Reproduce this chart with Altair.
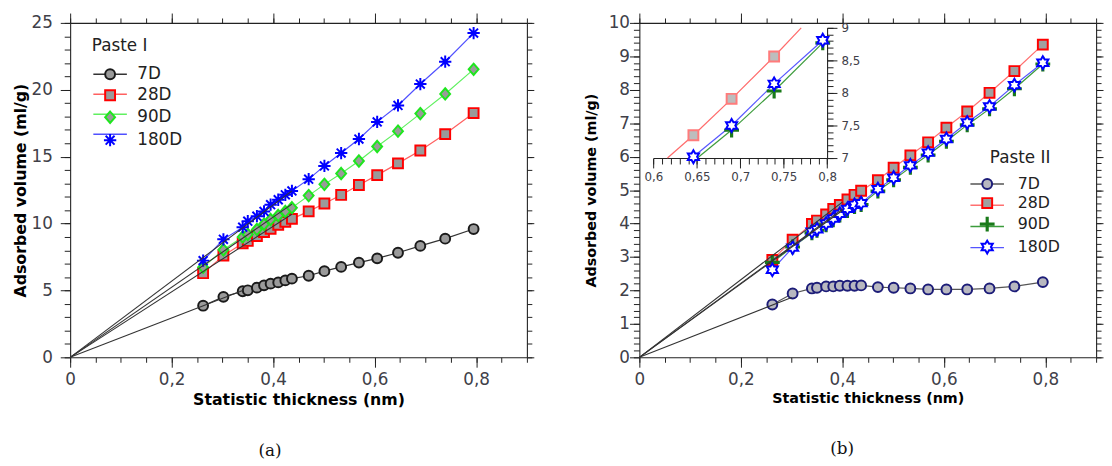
import altair as alt
import numpy as np
import pandas as pd

# ---------------- data ----------------
series = ["7D", "28D", "90D", "180D"]
thickness = [0.262, 0.302, 0.340, 0.350, 0.368, 0.382, 0.395, 0.410, 0.424, 0.437,
             0.470, 0.501, 0.534, 0.569, 0.605, 0.646, 0.690, 0.739, 0.795]

# Paste I (panel a)
p1_7d = [3.86, 4.52, 4.94, 5.01, 5.21, 5.38, 5.51, 5.60, 5.75, 5.88,
         6.10, 6.44, 6.76, 7.08, 7.40, 7.82, 8.33, 8.87, 9.59]
p1_28d = [6.29, 7.60, 8.53, 8.70, 9.07, 9.37, 9.61, 9.91, 10.13, 10.35,
          10.91, 11.50, 12.14, 12.88, 13.62, 14.50, 15.46, 16.69, 18.26]
p1_90d = [6.74, 8.04, 9.00, 9.19, 9.56, 9.95, 10.30, 10.60, 10.90, 11.18,
          12.09, 12.93, 13.74, 14.68, 15.76, 16.91, 18.22, 19.69, 21.53]
p1_180d = [7.23, 8.82, 9.73, 10.18, 10.55, 10.91, 11.41, 11.78, 12.15, 12.44,
           13.32, 14.31, 15.27, 16.32, 17.60, 18.83, 20.43, 22.10, 24.24]

# Paste II (panel b)
p2_7d = [1.58, 1.91, 2.06, 2.08, 2.12, 2.12, 2.14, 2.14, 2.14, 2.15,
         2.10, 2.08, 2.06, 2.03, 2.03, 2.03, 2.06, 2.12, 2.25]
p2_28d = [2.91, 3.52, 3.99, 4.09, 4.27, 4.44, 4.56, 4.72, 4.86, 4.98,
          5.30, 5.67, 6.04, 6.43, 6.87, 7.35, 7.91, 8.56, 9.35]
p2_90d = [2.84, 3.30, 3.72, 3.80, 3.96, 4.11, 4.25, 4.39, 4.51, 4.57,
          4.97, 5.31, 5.68, 6.05, 6.46, 6.95, 7.43, 8.03, 8.77]
p2_180d = [2.62, 3.28, 3.76, 3.83, 4.00, 4.15, 4.29, 4.44, 4.56, 4.61,
           5.03, 5.37, 5.74, 6.12, 6.53, 7.02, 7.50, 8.14, 8.81]

# straight lines from the origin (end points)
fit1_end_x = [0.340, 0.437, 0.437, 0.437]
fit1_end_y = [5.00, 10.70, 11.45, 12.44]
fit2_end_x = [0.300, 0.400, 0.400, 0.400]
fit2_end_y = [1.79, 4.64, 4.39, 4.43]

inset_series = ["28D", "90D", "180D"]
inset_x_domain = [0.6, 0.8]
inset_y_domain = [7.0, 9.0]

# tick positions
x_major = [0.0, 0.2, 0.4, 0.6, 0.8]
x_minor = [round(0.05 * i, 2) for i in range(19)]
y1_major = [0, 5, 10, 15, 20, 25]
y1_minor = list(range(26))
y2_major = list(range(11))
y2_minor = [round(0.2 * i, 1) for i in range(51)]
ix_major = [0.6, 0.65, 0.7, 0.75, 0.8]
ix_minor = [round(0.6 + 0.01 * i, 2) for i in range(21)]
iy_major = [7.0, 7.5, 8.0, 8.5, 9.0]
iy_minor = [round(7.0 + 0.1 * i, 1) for i in range(21)]

# ---------------- styles ----------------
FONT = "DejaVu Sans"
LABEL_COLOR = "#404048"
AXIS_COLOR = "#222222"

ASTERISK = "M0,-1.25V1.25M-1.25,0H1.25M-0.9,-0.9L0.9,0.9M-0.9,0.9L0.9,-0.9"
DIAMOND = "M0,-1.15L1.0,0L0,1.15L-1.0,0Z"
PLUS = "M-0.12,-1.3H0.12V-0.12H1.3V0.12H0.12V1.3H-0.12V0.12H-1.3V-0.12H-0.12Z"
_hex = []
for k in range(12):
    ang = np.deg2rad(-90 + 30 * k)
    r = 1.3 if k % 2 == 0 else 1.3 / np.sqrt(3)
    _hex.append(f"{r * np.cos(ang):.3f},{r * np.sin(ang):.3f}")
HEXAGRAM = "M" + "L".join(_hex) + "Z"
LEGEND_LINE = "M-3.4,0H3.4"

W, H = 463, 339


def long_df(values):
    rows = []
    for s, vals in zip(series, values):
        for t, v in zip(thickness, vals):
            rows.append({"t": t, "v": v, "series": s})
    return pd.DataFrame(rows)


def fit_df(ex, ey):
    rows = []
    for s, x, y in zip(series, ex, ey):
        rows.append({"t": 0.0, "v": 0.0, "series": s})
        rows.append({"t": x, "v": y, "series": s})
    return pd.DataFrame(rows)


def axis_major(orient, values, labels=True, size=10, label_size=17, label_pad=8,
               title=None, title_size=16, title_pad=4, offset=0):
    args = dict(orient=orient, values=values, grid=False, domain=True,
                domainColor=AXIS_COLOR, domainWidth=1.1, ticks=True,
                tickColor=AXIS_COLOR, tickWidth=1, tickSize=size, labels=labels)
    if offset:
        args["offset"] = offset
    if labels:
        args.update(labelExpr="replace(format(datum.value, '~g'), '.', ',')",
                    labelFont=FONT, labelFontSize=label_size, labelColor=LABEL_COLOR,
                    labelPadding=label_pad, labelOverlap=False, labelFlush=False)
    if title:
        args.update(title=title, titleFont=FONT, titleFontSize=title_size,
                    titleFontWeight="bold", titleColor="#000000", titlePadding=title_pad)
    else:
        args["title"] = None
    return alt.Axis(**args)


def axis_minor(orient, values, size=5, offset=0):
    args = dict(orient=orient, values=values, grid=False, domain=False, ticks=True,
                tickColor=AXIS_COLOR, tickWidth=1, tickSize=size, labels=False, title=None)
    if offset:
        args["offset"] = offset
    return alt.Axis(**args)


def legend(title, show_title, show_labels, symbol_type, stroke_w, lx, ly,
           label_size, sym_off, lab_off, title_pad, row_pad):
    args = dict(orient="none", legendX=lx, legendY=ly, direction="vertical",
                title=title, titleFont=FONT, titleFontSize=17, titleFontWeight="normal",
                titleColor="#222222", titleOpacity=1 if show_title else 0,
                titlePadding=title_pad, labelFont=FONT, labelFontSize=label_size,
                labelColor="#222222", labelOpacity=1 if show_labels else 0,
                labelOffset=lab_off, symbolOffset=sym_off, symbolSize=100,
                symbolStrokeWidth=stroke_w, rowPadding=row_pad, padding=0)
    if symbol_type:
        args["symbolType"] = symbol_type
    return alt.Legend(**args)


def main_layers(df, fits, ymax, y_maj, y_min, cfg):
    xs = alt.Scale(domain=[0, 0.9], nice=False, zero=False)
    ys = alt.Scale(domain=[0, ymax], nice=False, zero=False)
    lx, ly, lsz, so, lo, tp, rp_lines, rp_pts = cfg["legend_args"]
    leg_lines = legend(cfg["legend_title"], cfg["title_on_lines"], False, LEGEND_LINE, 1.5,
                       lx, ly, lsz, so, lo, tp, rp_lines)
    leg_pts = legend(cfg["legend_title"], not cfg["title_on_lines"], True, None, 2,
                     lx, ly, lsz, so, lo, tp, rp_pts)
    lines = alt.Chart(df).mark_line(strokeWidth=1.2).encode(
        x=alt.X("t:Q", scale=xs, axis=axis_major("bottom", x_major, label_size=cfg["lsize"],
                                                  label_pad=cfg["xlpad"],
                                                  title="Statistic thickness (nm)",
                                                  title_size=cfg["tsize"], title_pad=cfg["xtpad"])),
        y=alt.Y("v:Q", scale=ys, axis=axis_major("left", y_maj, label_size=cfg["lsize"],
                                                  label_pad=cfg["ylpad"],
                                                  title="Adsorbed volume (ml/g)",
                                                  title_size=cfg["tsize"], title_pad=cfg["ytpad"])),
        color=alt.Color("series:N", scale=alt.Scale(domain=series, range=cfg["line_colors"]),
                        legend=leg_lines),
    )
    pts = alt.Chart(df).mark_point(filled=True, size=100, strokeWidth=2, opacity=1).encode(
        x=alt.X("t:Q", scale=xs, axis=None),
        y=alt.Y("v:Q", scale=ys, axis=None),
        shape=alt.Shape("series:N", scale=alt.Scale(domain=series, range=cfg["shapes"]), legend=leg_pts),
        fill=alt.Fill("series:N", scale=alt.Scale(domain=series, range=cfg["fills"]), legend=leg_pts),
        stroke=alt.Stroke("series:N", scale=alt.Scale(domain=series, range=cfg["strokes"]), legend=leg_pts),
    )
    fit = alt.Chart(fits).mark_line(color="#333333", strokeWidth=1.1).encode(
        x=alt.X("t:Q", scale=xs, axis=axis_minor("bottom", x_minor, 5)),
        y=alt.Y("v:Q", scale=ys, axis=axis_minor("left", y_min, 6)),
        detail="series:N",
    )
    mirror_major = alt.Chart(df).mark_point(opacity=0).encode(
        x=alt.X("t:Q", scale=xs, axis=axis_major("top", x_major, labels=False, size=10)),
        y=alt.Y("v:Q", scale=ys, axis=axis_major("right", y_maj, labels=False, size=7)),
    )
    mirror_minor = alt.Chart(df).mark_point(opacity=0).encode(
        x=alt.X("t:Q", scale=xs, axis=axis_minor("top", x_minor, 5)),
        y=alt.Y("v:Q", scale=ys, axis=axis_minor("right", y_min, 5)),
    )
    return [lines, pts, fit, mirror_major, mirror_minor]


def clip_segment(x0, y0, x1, y1, xmin, xmax, ymin, ymax):
    dx, dy = x1 - x0, y1 - y0
    u0, u1 = 0.0, 1.0
    for p, q in ((-dx, x0 - xmin), (dx, xmax - x0), (-dy, y0 - ymin), (dy, ymax - y0)):
        if p == 0:
            if q < 0:
                return None
        else:
            t = q / p
            if p < 0:
                u0 = max(u0, t)
            else:
                u1 = min(u1, t)
    if u0 > u1:
        return None
    return x0 + u0 * dx, y0 + u0 * dy, x0 + u1 * dx, y0 + u1 * dy


RESOLVE = dict(x="independent", y="independent", color="independent",
               shape="independent", fill="independent", stroke="independent")
LEG_RESOLVE = dict(color="independent", shape="independent", fill="independent",
                   stroke="independent")

# ---------------- panel (a) ----------------
df1 = long_df([p1_7d, p1_28d, p1_90d, p1_180d])
cfg1 = dict(
    legend_title="Paste I", title_on_lines=True,
    # legendX, legendY, label size, symbolOffset, labelOffset, titlePadding, rowPad(lines), rowPad(points)
    legend_args=(22, 15, 17, 10, 19, 11.5, 2.3, 2.3),
    line_colors=["#333333", "#ff6060", "#60f060", "#5050ff"],
    shapes=["circle", "square", DIAMOND, ASTERISK],
    fills=["#9a9a9a", "#9a9a9a", "#9a9a9a", "transparent"],
    strokes=["#1a1a1a", "#ff0000", "#1ee61e", "#0000ff"],
    lsize=17, tsize=16, xlpad=5, ylpad=8, xtpad=4, ytpad=3,
)
left = alt.layer(*main_layers(df1, fit_df(fit1_end_x, fit1_end_y), 25, y1_major, y1_minor, cfg1)) \
    .resolve_scale(**RESOLVE).resolve_axis(x="independent", y="independent") \
    .resolve_legend(**LEG_RESOLVE) \
    .properties(width=W, height=H,
                title=alt.TitleParams("(a)", orient="bottom", font="DejaVu Serif", fontSize=17,
                                      fontWeight="normal", color="#111111", offset=36, dx=-29))

# ---------------- panel (b) ----------------
df2 = long_df([p2_7d, p2_28d, p2_90d, p2_180d])
cfg2 = dict(
    legend_title="Paste II", title_on_lines=False,
    legend_args=(355.3, 129, 16, -10.7, 23, 9.3, 5.5, 1.3),
    line_colors=["#555555", "#ff7070", "#3c9c3c", "#5555ff"],
    shapes=["circle", "square", PLUS, HEXAGRAM],
    fills=["#b8b8c0", "#a0a0a0", "#1a7a1a", "#ffffff"],
    strokes=["#1c1c78", "#ff0000", "#1a7a1a", "#0000ff"],
    lsize=17, tsize=14.5, xlpad=5, ylpad=0, xtpad=4, ytpad=10,
)

# inset data: clipped segments and visible points
inset_vals = {"28D": p2_28d, "90D": p2_90d, "180D": p2_180d}
seg_rows, ipt_rows = [], []
for s in inset_series:
    vals = inset_vals[s]
    for i in range(len(thickness) - 1):
        c = clip_segment(thickness[i], vals[i], thickness[i + 1], vals[i + 1],
                         inset_x_domain[0], inset_x_domain[1], inset_y_domain[0], inset_y_domain[1])
        if c:
            seg_rows.append({"x": c[0], "y": c[1], "x2": c[2], "y2": c[3], "series": s})
    for t, v in zip(thickness, vals):
        if inset_x_domain[0] <= t <= inset_x_domain[1] and inset_y_domain[0] <= v <= inset_y_domain[1]:
            ipt_rows.append({"t": t, "v": v, "series": s})
seg_df = pd.DataFrame(seg_rows)
ipt_df = pd.DataFrame(ipt_rows)

IX_RANGE = [14.3, 190.3]
IY_RANGE = [137, 5]
ix_scale = alt.Scale(domain=inset_x_domain, range=IX_RANGE, nice=False, zero=False)
iy_scale = alt.Scale(domain=inset_y_domain, range=IY_RANGE, nice=False, zero=False)
X_OFF = -(H - IY_RANGE[0])
Y_OFF = -(W - IX_RANGE[1])

inset_lines = alt.Chart(seg_df).mark_rule(strokeWidth=1.2).encode(
    x=alt.X("x:Q", scale=ix_scale, axis=axis_major("bottom", ix_major, size=10, label_size=12,
                                                   label_pad=4, offset=X_OFF)),
    x2="x2:Q",
    y=alt.Y("y:Q", scale=iy_scale, axis=axis_major("right", iy_major, size=10, label_size=12,
                                                   label_pad=4, offset=Y_OFF)),
    y2="y2:Q",
    color=alt.Color("series:N", scale=alt.Scale(domain=inset_series,
                                                range=["#ff6a6a", "#3c9c3c", "#5555ff"]), legend=None),
)
inset_pts = alt.Chart(ipt_df).mark_point(filled=True, size=100, strokeWidth=2, opacity=1).encode(
    x=alt.X("t:Q", scale=ix_scale, axis=axis_minor("bottom", ix_minor, 6, offset=X_OFF)),
    y=alt.Y("v:Q", scale=iy_scale, axis=axis_minor("right", iy_minor, 6, offset=Y_OFF)),
    shape=alt.Shape("series:N", scale=alt.Scale(domain=inset_series, range=["square", PLUS, HEXAGRAM]),
                    legend=None),
    fill=alt.Fill("series:N", scale=alt.Scale(domain=inset_series, range=["#bdbdbd", "#1a7a1a", "#ffffff"]),
                  legend=None),
    stroke=alt.Stroke("series:N", scale=alt.Scale(domain=inset_series, range=["#ff7b7b", "#1a7a1a", "#0000ff"]),
                      legend=None),
)

right = alt.layer(*main_layers(df2, fit_df(fit2_end_x, fit2_end_y), 10, y2_major, y2_minor, cfg2),
                  inset_lines, inset_pts) \
    .resolve_scale(**RESOLVE).resolve_axis(x="independent", y="independent") \
    .resolve_legend(**LEG_RESOLVE) \
    .properties(width=W, height=H,
                title=alt.TitleParams("(b)", orient="bottom", font="DejaVu Serif", fontSize=17,
                                      fontWeight="normal", color="#111111", offset=36, dx=-26))

chart = alt.hconcat(left, right, spacing=48).properties(
    padding={"left": 3, "top": 1, "right": 0, "bottom": 0},
    background="white",
).configure_view(stroke="transparent")

chart.save("out.html", embed_options={"renderer": "svg", "actions": False})
